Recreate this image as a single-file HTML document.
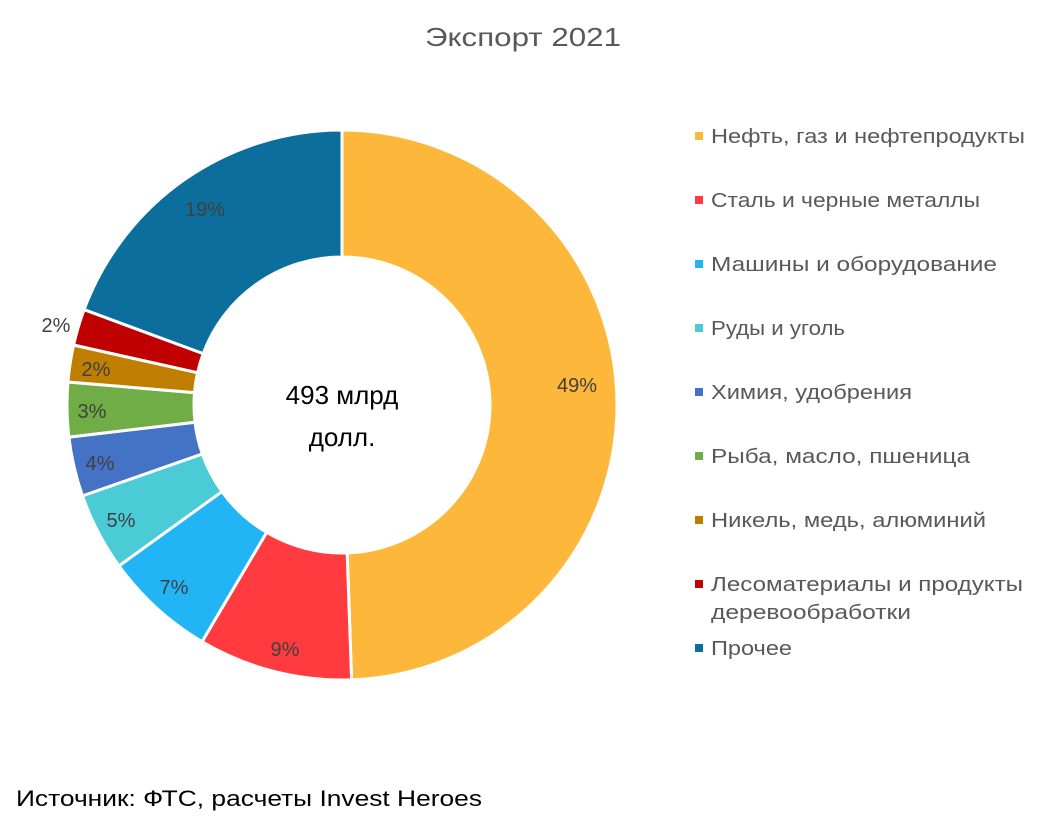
<!DOCTYPE html>
<html><head><meta charset="utf-8"><style>
html,body{margin:0;padding:0;background:#fff;}
svg text{font-family:"Liberation Sans","DejaVu Sans",sans-serif;fill:#595959;}
</style></head><body>
<svg id="s" width="1047" height="829" viewBox="0 0 1047 829" xmlns="http://www.w3.org/2000/svg">
<text x="523" y="46" font-size="26" text-anchor="middle" textLength="196" lengthAdjust="spacingAndGlyphs">Экспорт 2021</text>
<g id="pie"></g>
<text x="342" y="404" font-size="26" text-anchor="middle" style="fill:#000">493 млрд</text>
<text x="342" y="446" font-size="26" text-anchor="middle" style="fill:#000">долл.</text>
<g font-size="20" style="fill:#404040">
<text x="577" y="392" text-anchor="middle" style="fill:#404040">49%</text>
<text x="285" y="656" text-anchor="middle" style="fill:#404040">9%</text>
<text x="174" y="594" text-anchor="middle" style="fill:#404040">7%</text>
<text x="121" y="527" text-anchor="middle" style="fill:#404040">5%</text>
<text x="100" y="470" text-anchor="middle" style="fill:#404040">4%</text>
<text x="92" y="418" text-anchor="middle" style="fill:#404040">3%</text>
<text x="96" y="376" text-anchor="middle" style="fill:#404040">2%</text>
<text x="56" y="332" text-anchor="middle" style="fill:#404040">2%</text>
<text x="205" y="216" text-anchor="middle" style="fill:#404040">19%</text>
</g>
<g font-size="20">
<rect x="695" y="132" width="8" height="8" fill="#FDB73A"/><text x="711" y="143" textLength="314" lengthAdjust="spacingAndGlyphs">Нефть, газ и нефтепродукты</text>
<rect x="695" y="196" width="8" height="8" fill="#FF3B3F"/><text x="711" y="207" textLength="269" lengthAdjust="spacingAndGlyphs">Сталь и черные металлы</text>
<rect x="695" y="260" width="8" height="8" fill="#22B5F5"/><text x="711" y="271" textLength="286" lengthAdjust="spacingAndGlyphs">Машины и оборудование</text>
<rect x="695" y="324" width="8" height="8" fill="#4BCBD6"/><text x="711" y="335" textLength="134" lengthAdjust="spacingAndGlyphs">Руды и уголь</text>
<rect x="695" y="388" width="8" height="8" fill="#4472C4"/><text x="711" y="399" textLength="201" lengthAdjust="spacingAndGlyphs">Химия, удобрения</text>
<rect x="695" y="452" width="8" height="8" fill="#70AD47"/><text x="711" y="463" textLength="259" lengthAdjust="spacingAndGlyphs">Рыба, масло, пшеница</text>
<rect x="695" y="516" width="8" height="8" fill="#BF7E00"/><text x="711" y="527" textLength="275" lengthAdjust="spacingAndGlyphs">Никель, медь, алюминий</text>
<rect x="695" y="580" width="8" height="8" fill="#C00000"/><text x="711" y="591" textLength="312" lengthAdjust="spacingAndGlyphs">Лесоматериалы и продукты</text>
<text x="711" y="619" textLength="200" lengthAdjust="spacingAndGlyphs">деревообработки</text>
<rect x="695" y="644" width="8" height="8" fill="#0B6E9C"/><text x="711" y="655" textLength="81" lengthAdjust="spacingAndGlyphs">Прочее</text>
</g>
<text x="16" y="806" font-size="22" style="fill:#000" textLength="466" lengthAdjust="spacingAndGlyphs">Источник: ФТС, расчеты Invest Heroes</text>
</svg>
<script>
var cx=342,cy=405,R=275,r=148;
var b=[0,178,210.6,234.2,250.7,263.3,274.8,282.6,290.3,360];
var c=["#FDB73A","#FF3B3F","#22B5F5","#4BCBD6","#4472C4","#70AD47","#BF7E00","#C00000","#0B6E9C"];
function p(a,rad){a=a*Math.PI/180;return [cx+rad*Math.sin(a),cy-rad*Math.cos(a)];}
var h="";
for(var i=0;i<9;i++){var a0=b[i],a1=b[i+1],l=(a1-a0)>180?1:0;
var A=p(a0,R),B=p(a1,R),C=p(a1,r),D=p(a0,r);
h+='<path d="M'+A+' A'+R+','+R+' 0 '+l+' 1 '+B+' L'+C+' A'+r+','+r+' 0 '+l+' 0 '+D+' Z" fill="'+c[i]+'" stroke="#fff" stroke-width="3" stroke-linejoin="round"/>';}
document.getElementById("pie").innerHTML=h;
</script>
</body></html>
